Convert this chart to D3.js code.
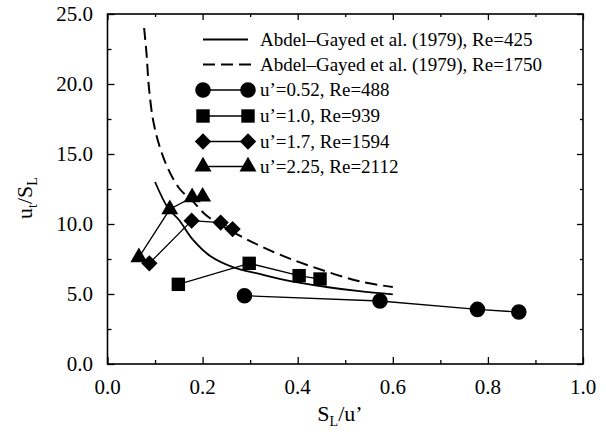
<!DOCTYPE html>
<html>
<head>
<meta charset="utf-8">
<script src="https://cdn.jsdelivr.net/npm/d3@7"></script>
</head>
<body style="margin:0">
<div id="graph"></div>
<script>

var circles   = [[0.288, 4.88], [0.573, 4.50], [0.778, 3.90], [0.865, 3.71]]
var squares   = [[0.149, 5.69], [0.298, 7.19], [0.403, 6.31], [0.447, 6.07]]
var diamonds  = [[0.088, 7.19], [0.177, 10.24], [0.238, 10.10], [0.263, 9.64]]
var triangles = [[0.066, 7.62], [0.131, 11.05], [0.178, 11.90], [0.200, 11.95]]

// Abdel-Gayed curves, traced
var re425  = [[0.100, 13.0], [0.128, 11.1], [0.150, 10.3], [0.180, 8.86], [0.216, 7.71],
              [0.265, 6.90], [0.320, 6.43], [0.390, 5.88], [0.460, 5.50], [0.530, 5.20], [0.600, 4.98]]
var re1750 = [[0.077, 24.0], [0.082, 22.2], [0.087, 19.8], [0.096, 17.4], [0.110, 15.5],
              [0.128, 13.9], [0.152, 12.5], [0.180, 11.6], [0.205, 10.7], [0.230, 10.1],
              [0.293, 8.9], [0.356, 7.9], [0.426, 7.0], [0.531, 5.9], [0.600, 5.5]]

var legendLabels = [
  'Abdel\u2013Gayed et al. (1979), Re=425',
  'Abdel\u2013Gayed et al. (1979), Re=1750',
  'u\u2019=0.52, Re=488',
  'u\u2019=1.0, Re=939',
  'u\u2019=1.7, Re=1594',
  'u\u2019=2.25, Re=2112'
]

var xTicks = [0, 0.2, 0.4, 0.6, 0.8, 1.0]
var xMinor = [0.1, 0.3, 0.5, 0.7, 0.9]
var yTicks = [0, 5, 10, 15, 20, 25]
var yMinor = [2.5, 7.5, 12.5, 17.5, 22.5]

var fontFam = 'Liberation Serif'

var x = d3.scaleLinear().domain([0, 1]).range([107.5, 583])
var y = d3.scaleLinear().domain([0, 25]).range([364, 14])

var svg = d3.select('#graph')
  .append('svg')
  .attr('width', 606)
  .attr('height', 436)

var fmt = d3.format('.1f')

// ticks only: labels are drawn separately as plain text
function ticksOnly(g){
  g.select('.domain').remove()
  g.selectAll('text').remove()
  g.selectAll('line').attr('stroke', '#000').attr('stroke-width', 1.3)
}

svg.append('g').attr('transform', 'translate(0,' + y(0) + ')')
  .call(d3.axisBottom(x).tickValues(xTicks).tickSizeInner(-7).tickSizeOuter(0)).call(ticksOnly)
svg.append('g').attr('transform', 'translate(0,' + y(0) + ')')
  .call(d3.axisBottom(x).tickValues(xMinor).tickSizeInner(-4).tickSizeOuter(0)).call(ticksOnly)
svg.append('g').attr('transform', 'translate(0,' + y(25) + ')')
  .call(d3.axisTop(x).tickValues(xTicks).tickSizeInner(-6).tickSizeOuter(0)).call(ticksOnly)
svg.append('g').attr('transform', 'translate(0,' + y(25) + ')')
  .call(d3.axisTop(x).tickValues(xMinor).tickSizeInner(-3).tickSizeOuter(0)).call(ticksOnly)
svg.append('g').attr('transform', 'translate(' + x(0) + ',0)')
  .call(d3.axisLeft(y).tickValues(yTicks).tickSizeInner(-7).tickSizeOuter(0)).call(ticksOnly)
svg.append('g').attr('transform', 'translate(' + x(0) + ',0)')
  .call(d3.axisLeft(y).tickValues(yMinor).tickSizeInner(-4).tickSizeOuter(0)).call(ticksOnly)
svg.append('g').attr('transform', 'translate(' + x(1) + ',0)')
  .call(d3.axisRight(y).tickValues(yTicks).tickSizeInner(-6).tickSizeOuter(0)).call(ticksOnly)
svg.append('g').attr('transform', 'translate(' + x(1) + ',0)')
  .call(d3.axisRight(y).tickValues(yMinor).tickSizeInner(-3).tickSizeOuter(0)).call(ticksOnly)

svg.selectAll('text.xlab').data(xTicks).enter().append('text')
  .attr('class', 'xlab')
  .attr('x', d => x(d)).attr('y', 394)
  .attr('text-anchor', 'middle')
  .attr('font-family', fontFam).attr('font-size', 21)
  .text(d => fmt(d))

svg.selectAll('text.ylab').data(yTicks).enter().append('text')
  .attr('class', 'ylab')
  .attr('x', 93).attr('y', d => y(d) + 7)
  .attr('text-anchor', 'end')
  .attr('font-family', fontFam).attr('font-size', 21)
  .text(d => fmt(d))

// frame
svg.append('rect')
  .attr('x', x(0)).attr('y', y(25))
  .attr('width', x(1) - x(0)).attr('height', y(0) - y(25))
  .attr('fill', 'none').attr('stroke', '#000').attr('stroke-width', 1.6)

// axis titles
var xt = svg.append('text')
  .attr('x', 340).attr('y', 421)
  .attr('text-anchor', 'middle')
  .attr('font-family', fontFam).attr('font-size', 22)
xt.append('tspan').text('S')
xt.append('tspan').attr('dy', 5).attr('font-size', 14).text('L')
xt.append('tspan').attr('dy', -5).text('/u\u2019')

var yt = svg.append('text')
  .attr('transform', 'translate(32,198) rotate(-90)')
  .attr('text-anchor', 'middle')
  .attr('font-family', fontFam).attr('font-size', 22)
yt.append('tspan').text('u')
yt.append('tspan').attr('dy', 5).attr('font-size', 14).text('t')
yt.append('tspan').attr('dy', -5).text('/S')
yt.append('tspan').attr('dy', 5).attr('font-size', 14).text('L')

// correlation curves
var smooth = d3.line()
  .x(d => x(d[0]))
  .y(d => y(d[1]))
  .curve(d3.curveCatmullRom.alpha(0.5))

svg.append('path')
  .attr('d', smooth(re425))
  .attr('fill', 'none').attr('stroke', '#000').attr('stroke-width', 1.8)
svg.append('path')
  .attr('d', smooth(re1750))
  .attr('fill', 'none').attr('stroke', '#000').attr('stroke-width', 2)
  .attr('stroke-dasharray', '12,6')

// measured series
var straight = d3.line().x(d => x(d[0])).y(d => y(d[1]))

var series = [
  {pts: circles,   sym: d3.symbolCircle,   size: 190},
  {pts: squares,   sym: d3.symbolSquare,   size: 180},
  {pts: diamonds,  sym: d3.symbolDiamond2, size: 170},
  {pts: triangles, sym: d3.symbolTriangle, size: 125}
]

series.forEach(s => {
  svg.append('path')
    .attr('d', straight(s.pts))
    .attr('fill', 'none').attr('stroke', '#000').attr('stroke-width', 1.3)
  svg.selectAll(null).data(s.pts).enter().append('path')
    .attr('transform', d => 'translate(' + x(d[0]) + ',' + y(d[1]) + ')')
    .attr('d', d3.symbol().type(s.sym).size(s.size))
    .attr('fill', '#000')
})

// legend
var rowY = [39.5, 64.5, 90, 116, 141.5, 166.5]
var lx0 = 203, lx1 = 248

svg.selectAll('text.leg').data(legendLabels).enter().append('text')
  .attr('class', 'leg')
  .attr('x', 260)
  .attr('y', (d, i) => rowY[i] + 6)
  .attr('font-family', fontFam).attr('font-size', 19)
  .text(d => d)

svg.append('line')
  .attr('x1', lx0).attr('x2', lx1).attr('y1', rowY[0]).attr('y2', rowY[0])
  .attr('stroke', '#000').attr('stroke-width', 1.8)
svg.append('line')
  .attr('x1', lx0).attr('x2', lx1 + 4).attr('y1', rowY[1]).attr('y2', rowY[1])
  .attr('stroke', '#000').attr('stroke-width', 2).attr('stroke-dasharray', '12,6')

series.forEach((s, i) => {
  var ry = rowY[i + 2]
  svg.append('line')
    .attr('x1', lx0).attr('x2', lx1).attr('y1', ry).attr('y2', ry)
    .attr('stroke', '#000').attr('stroke-width', 1.3)
  svg.selectAll(null).data([lx0, lx1]).enter().append('path')
    .attr('transform', d => 'translate(' + d + ',' + ry + ')')
    .attr('d', d3.symbol().type(s.sym).size(s.size))
    .attr('fill', '#000')
})

</script>
</body>
</html>
